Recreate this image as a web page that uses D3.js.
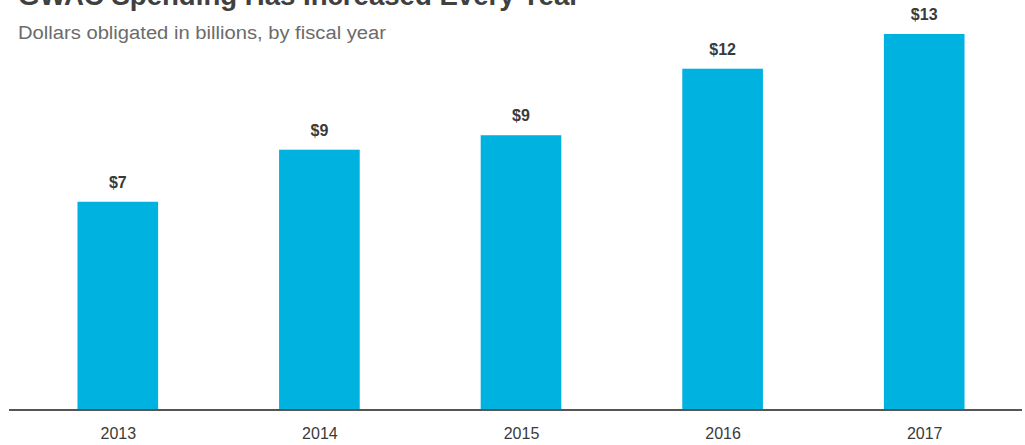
<!DOCTYPE html>
<html lang="en">
<head>
<meta charset="UTF-8">
<title>GWAC Spending</title>
<script src="https://d3js.org/d3.v7.min.js"></script>
<style>
  body { margin: 0; background: #fff; }
</style>
</head>
<body>
<div id="chart"></div>
<script>
  const years = ["2013", "2014", "2015", "2016", "2017"];
  const spending = [7.2, 9.0, 9.5, 11.8, 13.0];
  const valueLabels = ["$7", "$9", "$9", "$12", "$13"];

  const w = 1025;
  const h = 445;
  const baseY = 410;
  const font = "Liberation Sans, Arial, sans-serif";

  const svg = d3.select("#chart")
    .append("svg")
    .attr("width", w)
    .attr("height", h);

  const xscale = d3.scalePoint()
    .domain(years)
    .range([17, 1025])
    .padding(0.5);
  const barW = xscale.step() * 0.4;

  const yscale = d3.scaleLinear()
    .domain([0, 13])
    .range([baseY, 34]);

  // title (cut off at top edge, as in the source) and subtitle
  svg.append("text")
    .attr("x", 18)
    .attr("y", 5)
    .attr("font-family", font)
    .attr("font-weight", "bold")
    .attr("font-size", 28)
    .attr("textLength", 562)
    .attr("lengthAdjust", "spacingAndGlyphs")
    .attr("fill", "#404040")
    .text("GWAC Spending Has Increased Every Year");

  svg.append("text")
    .attr("x", 18)
    .attr("y", 39)
    .attr("font-family", font)
    .attr("font-size", 18)
    .attr("textLength", 368)
    .attr("lengthAdjust", "spacingAndGlyphs")
    .attr("fill", "#6b6b6b")
    .text("Dollars obligated in billions, by fiscal year");

  svg.selectAll("rect.bar")
    .data(spending)
    .enter()
    .append("rect")
    .attr("class", "bar")
    .attr("x", (d, i) => xscale(years[i]) - barW / 2)
    .attr("y", d => yscale(d))
    .attr("width", barW)
    .attr("height", d => baseY - yscale(d))
    .attr("fill", "#00b2e0");

  svg.selectAll("text.val")
    .data(spending)
    .enter()
    .append("text")
    .attr("class", "val")
    .attr("x", (d, i) => xscale(years[i]))
    .attr("y", d => yscale(d) - 14)
    .attr("text-anchor", "middle")
    .attr("font-family", font)
    .attr("font-weight", "bold")
    .attr("font-size", 16)
    .attr("fill", "#3a3a3a")
    .text((d, i) => valueLabels[i]);

  // x axis
  const xAxis = d3.axisBottom(xscale).tickSize(0).tickPadding(18);
  const gx = svg.append("g")
    .attr("transform", `translate(0, ${baseY})`)
    .call(xAxis);
  gx.select(".domain").remove();
  gx.selectAll("text")
    .attr("font-family", font)
    .attr("font-size", 16)
    .attr("fill", "#3a3a3a");

  svg.append("line")
    .attr("x1", 9)
    .attr("x2", 1022)
    .attr("y1", baseY)
    .attr("y2", baseY)
    .attr("stroke", "#555")
    .attr("stroke-width", 2);
</script>
</body>
</html>
